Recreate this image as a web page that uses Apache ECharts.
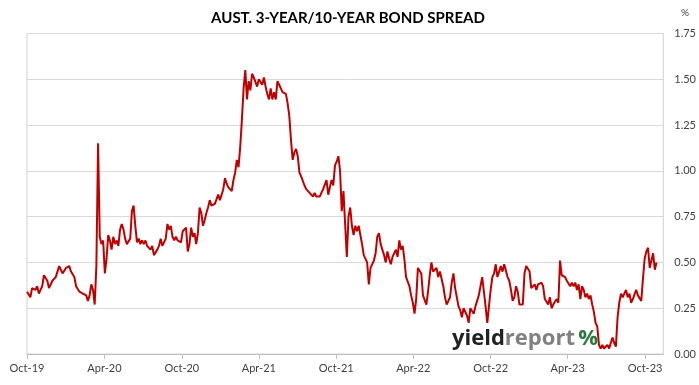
<!DOCTYPE html>
<html>
<head>
<meta charset="utf-8">
<script src="https://cdn.jsdelivr.net/npm/echarts@6/dist/echarts.min.js"></script>
<style>html,body{margin:0;padding:0;background:#fff}#c{width:699px;height:385px}</style>
</head>
<body>
<div id="c"></div>
<script>
// Data: AUST 3-year / 10-year bond spread (%), one reading every 4 days from 1 Oct 2019
const startDate = '2019-10-01';
const stepDays = 4;
const spreadOct19toNov20 = [
0.34,0.33,0.31,0.36,0.37,0.35,0.37,0.33,0.35,0.37,
0.43,0.44,0.40,0.36,0.35,0.40,0.41,0.42,0.45,0.48,
0.46,0.44,0.45,0.47,0.46,0.48,0.45,0.45,0.42,0.37,
0.36,0.34,0.35,0.33,0.34,0.32,0.29,0.32,0.38,0.35,
0.27,0.48,1.15,0.64,0.60,0.62,0.44,0.52,0.65,0.62,
0.57,0.64,0.60,0.62,0.59,0.68,0.71,0.68,0.63,0.60,
0.61,0.63,0.78,0.81,0.70,0.61,0.63,0.60,0.62,0.60,
0.62,0.59,0.60,0.57,0.59,0.54,0.55,0.57,0.59,0.63,
0.59,0.60,0.63,0.71,0.68,0.70,0.64,0.62,0.64,0.62,
0.63,0.61,0.67,0.68];
const spreadNov20toOct21 = [
0.69,0.56,0.60,0.69,0.64,0.66,0.60,0.66,0.80,0.77,
0.70,0.73,0.77,0.80,0.84,0.81,0.82,0.82,0.83,0.87,
0.84,0.83,0.90,0.96,0.93,0.91,0.92,0.89,0.95,0.99,
1.06,1.02,1.13,1.28,1.45,1.55,1.39,1.49,1.44,1.53,
1.51,1.52,1.46,1.50,1.51,1.47,1.51,1.46,1.42,1.39,
1.45,1.39,1.43,1.39,1.49,1.47,1.45,1.43,1.44,1.42,
1.37,1.30,1.17,1.06,1.10,1.12,1.08,0.99,0.97,0.98,
0.92,0.90,0.89,0.88,0.87,0.86,0.88,0.86,0.87,0.86,
0.88,0.90,0.91,0.95,0.87,0.91,0.95,0.92,1.03,1.05,
1.08];
const spreadOct21toOct22 = [
1.00,0.78,0.89,0.88,0.53,0.75,0.80,0.70,0.65,0.70,
0.67,0.70,0.65,0.60,0.54,0.55,0.50,0.38,0.47,0.47,
0.51,0.55,0.64,0.66,0.60,0.57,0.54,0.50,0.56,0.52,
0.49,0.53,0.52,0.57,0.53,0.62,0.57,0.59,0.52,0.42,
0.43,0.37,0.32,0.28,0.22,0.30,0.47,0.47,0.44,0.32,
0.33,0.27,0.34,0.43,0.50,0.45,0.44,0.47,0.42,0.45,
0.46,0.37,0.31,0.27,0.29,0.31,0.39,0.44,0.36,0.31,
0.26,0.24,0.20,0.25,0.26,0.21,0.17,0.25,0.24,0.22,
0.26,0.27,0.32,0.37,0.42,0.34,0.26,0.17,0.26,0.35,
0.42];
const spreadOct22toOct23 = [
0.44,0.49,0.42,0.43,0.48,0.45,0.49,0.49,0.42,0.40,
0.35,0.29,0.31,0.37,0.34,0.27,0.28,0.27,0.44,0.48,
0.49,0.45,0.36,0.36,0.38,0.35,0.38,0.39,0.39,0.37,
0.30,0.30,0.27,0.31,0.25,0.27,0.27,0.30,0.28,0.51,
0.43,0.43,0.42,0.40,0.41,0.37,0.39,0.37,0.39,0.35,
0.38,0.30,0.37,0.35,0.31,0.33,0.30,0.32,0.27,0.23,
0.17,0.15,0.05,0.03,0.05,0.03,0.02,0.05,0.03,0.06,
0.09,0.06,0.04,0.20,0.28,0.33,0.31,0.33,0.35,0.31,
0.33,0.28,0.30,0.31,0.35,0.32,0.33,0.29,0.41,0.52,
0.56,0.58,0.47,0.51,0.55,0.46,0.50];
const tickDates = ['2019-10-01','2020-04-01','2020-10-01','2021-04-01','2021-10-01','2022-04-01','2022-10-01','2023-04-01','2023-10-01'];
const tickLabels = ['Oct-19','Apr-20','Oct-20','Apr-21','Oct-21','Apr-22','Oct-22','Apr-23','Oct-23'];
const axisEndDate = '2023-11-13';
const yMin = 0, yMax = 1.75, yStep = 0.25;

const spread = [].concat(spreadOct19toNov20, spreadNov20toOct21, spreadOct21toOct22, spreadOct22toOct23);
const t0 = Date.parse(startDate);
const dayMs = 86400000;
const dayOf = d => Math.round((Date.parse(d) - t0) / dayMs);
const seriesData = spread.map((v, i) => [i * stepDays, v]);
const tickDays = tickDates.map(dayOf);

const chart = echarts.init(document.getElementById('c'), null, {renderer: 'canvas'});
const labelFont = 'Lato, "Open Sans", sans-serif';
chart.setOption({
  animation: false,
  backgroundColor: '#ffffff',
  title: {
    text: 'AUST. 3-YEAR/10-YEAR BOND SPREAD',
    left: 343, top: 6, textAlign: 'center',
    textStyle: {fontFamily: labelFont, fontWeight: 'bold', fontSize: 15, color: '#000000'}
  },
  grid: {left: 27, right: 34, top: 33.5, bottom: 31, show: true, borderColor: '#d0d0d0', borderWidth: 1, containLabel: false},
  xAxis: {
    type: 'value',
    min: 0, max: dayOf(axisEndDate),
    axisLine: {show: true, lineStyle: {color: '#bfbfbf', width: 1}},
    axisTick: {show: true, length: 5, lineStyle: {color: '#bfbfbf'}, customValues: tickDays},
    axisLabel: {
      customValues: tickDays, margin: 9,
      fontFamily: labelFont, fontSize: 11, color: '#404040',
      formatter: function (v) {
        let best = 0, bd = Infinity;
        tickDays.forEach((t, k) => { const d = Math.abs(t - v); if (d < bd) { bd = d; best = k; } });
        return tickLabels[best];
      }
    },
    splitLine: {show: false}
  },
  yAxis: {
    type: 'value', position: 'right',
    min: yMin, max: yMax, interval: yStep,
    axisLine: {show: false}, axisTick: {show: false},
    axisLabel: {margin: 11, fontFamily: labelFont, fontSize: 11, color: '#404040', formatter: v => v.toFixed(2)},
    splitLine: {lineStyle: {color: '#d9d9d9', width: 1}}
  },
  graphic: [
    {type: 'text', left: 681, top: 8, style: {text: '%', fontFamily: labelFont, fontSize: 10, fill: '#404040'}},
    {type: 'text', x: 452, y: 339, style: {
      text: '{a|yield}{b|report} {c|%}', verticalAlign: 'middle',
      rich: {
        a: {fontFamily: '"Open Sans", sans-serif', fontWeight: 'bold', fontSize: 22, fill: '#222222'},
        b: {fontFamily: '"Open Sans", sans-serif', fontWeight: 'bold', fontSize: 22, fill: '#808080'},
        c: {fontFamily: '"Open Sans", sans-serif', fontWeight: 'bold', fontSize: 22, fill: '#2a7a3e'}
      }
    }, z: 10}
  ],
  series: [{
    type: 'line', data: seriesData, showSymbol: false, symbol: 'none',
    lineStyle: {color: '#c00000', width: 2}, z: 5
  }]
});
</script>
</body>
</html>
